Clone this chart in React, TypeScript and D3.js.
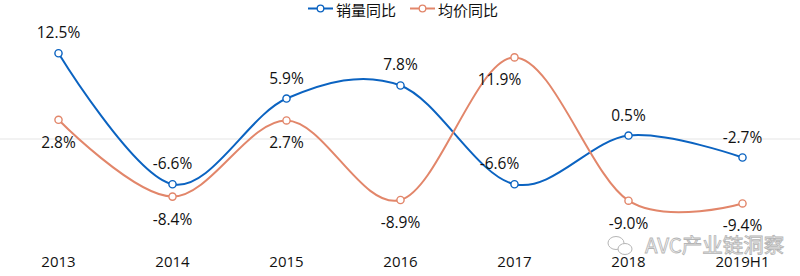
import React from "react";
import * as d3 from "d3";

const categories = ["2013", "2014", "2015", "2016", "2017", "2018", "2019H1"];
const volumeYoY = [12.5, -6.6, 5.9, 7.8, -6.6, 0.5, -2.7];
const priceYoY = [2.8, -8.4, 2.7, -8.9, 11.9, -9.0, -9.4];
const seriesNames = ["销量同比", "均价同比"];

const W = 800;
const H = 276;
const BLUE = "#0B63C1";
const ORANGE = "#E2866A";
const FONT = "'Open Sans', 'Noto Sans', 'Noto Sans CJK SC', sans-serif";

export default function App() {
  const x = d3.scalePoint<string>().domain(categories).range([58.5, 742.5]);
  const y = d3.scaleLinear().domain([-14, 16]).range([235.0, 29.26]);

  const line = d3
    .line<number>()
    .x((_, i) => x(categories[i]) as number)
    .y((d) => y(d))
    .curve(d3.curveCardinal.tension(0));

  const series = [
    { name: seriesNames[0], values: volumeYoY, color: BLUE, above: true },
    { name: seriesNames[1], values: priceYoY, color: ORANGE, above: false },
  ];

  // 2017 labels nudged left in the reference
  const nudge = (i: number) => (categories[i] === "2017" ? -15 : 0);

  return (
    <svg
      width={W}
      height={H}
      style={{ position: "absolute", left: 0, top: 0, background: "#fff" }}
      fontFamily={FONT}
    >
      <line x1={0} x2={W} y1={y(0)} y2={y(0)} stroke="#e6e6e6" strokeWidth={1.2} />

      {series.map((s) => (
        <g key={s.name}>
          <path d={line(s.values) || ""} fill="none" stroke={s.color} strokeWidth={2} />
          {s.values.map((v, i) => (
            <circle
              key={i}
              cx={x(categories[i])}
              cy={y(v)}
              r={3.6}
              fill="#fff"
              stroke={s.color}
              strokeWidth={1.4}
            />
          ))}
        </g>
      ))}

      {series.map((s) =>
        s.values.map((v, i) => (
          <text
            key={s.name + i}
            x={(x(categories[i]) as number) + nudge(i)}
            y={s.above ? y(v) - 15 : y(v) + 28}
            textAnchor="middle"
            fontSize={15.5}
            fill="#111"
          >
            {v.toFixed(1) + "%"}
          </text>
        ))
      )}

      {categories.map((c) => (
        <text
          key={c}
          x={x(c)}
          y={267}
          textAnchor="middle"
          fontSize={15}
          fill="#111"
        >
          {c}
        </text>
      ))}

      {/* legend */}
      {series.map((s, k) => {
        const lx = k === 0 ? 308 : 410;
        return (
          <g key={"lg" + k}>
            <line x1={lx} x2={lx + 25} y1={8.5} y2={8.5} stroke={s.color} strokeWidth={2} />
            <circle cx={lx + 12.5} cy={8.5} r={3.3} fill="#fff" stroke={s.color} strokeWidth={1.3} />
            <text x={lx + 28} y={15.5} fontSize={15} fill="#111" fontFamily="'Noto Sans CJK SC', sans-serif">
              {s.name}
            </text>
          </g>
        );
      })}

      {/* watermark */}
      <g opacity={0.85}>
        <ellipse cx={616} cy={243} rx={8} ry={6.5} fill="#fff" stroke="#aaa" strokeWidth={1} />
        <ellipse cx={625} cy={249} rx={7} ry={5.5} fill="#fff" stroke="#aaa" strokeWidth={1} />
        <text
          x={645}
          y={252.5}
          fontSize={20.5}
          fill="#f2f2f2"
          stroke="#a8a8a8"
          strokeWidth={0.8}
          fontFamily="'Noto Sans CJK SC', sans-serif"
        >
          AVC产业链洞察
        </text>
      </g>
    </svg>
  );
}
